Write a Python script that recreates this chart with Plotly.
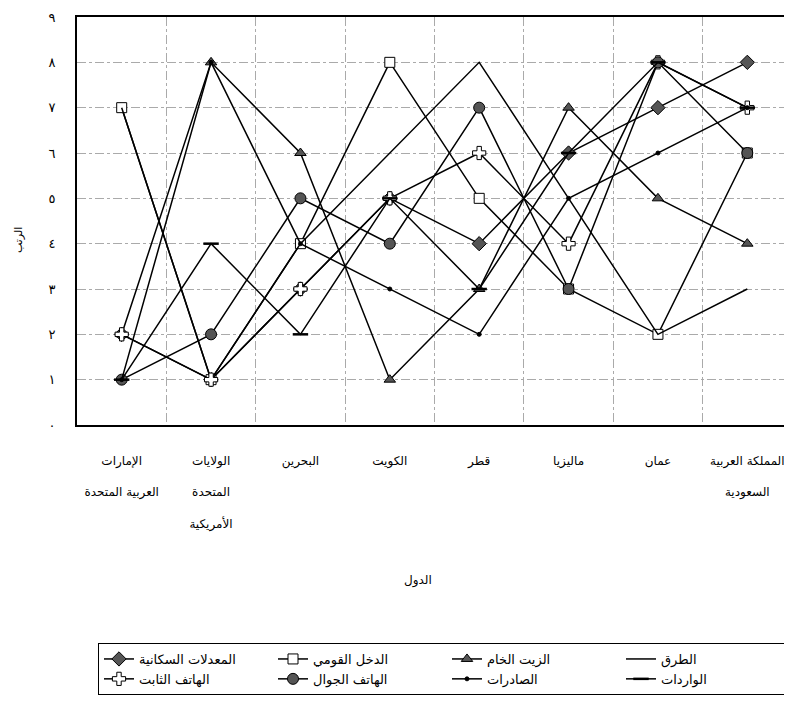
import plotly.graph_objects as go

countries = ["الإمارات<br>\u00a0<br>العربية المتحدة",
             "الولايات<br>\u00a0<br>المتحدة<br>\u00a0<br>الأمريكية",
             "البحرين", "الكويت", "قطر", "ماليزيا", "عمان",
             "المملكة العربية<br>\u00a0<br>السعودية"]

population = [2, 1, 3, 5, 4, 6, 7, 8]   # المعدلات السكانية
income     = [7, 1, 4, 8, 5, 3, 2, 6]   # الدخل القومي
crude      = [2, 8, 6, 1, 3, 7, 5, 4]   # الزيت الخام
roads      = [7, 1, 4, 6, 8, 5, 2, 3]   # الطرق
fixed      = [2, 1, 3, 5, 6, 4, 8, 7]   # الهاتف الثابت
mobile     = [1, 2, 5, 4, 7, 3, 8, 6]   # الهاتف الجوال
exports    = [1, 8, 4, 3, 2, 5, 6, 7]   # الصادرات
imports    = [1, 4, 2, 5, 3, 6, 8, 7]   # الواردات

y_ticks = list(range(10))
y_tick_text = ["٠", "١", "٢", "٣", "٤", "٥", "٦", "٧", "٨", "٩"]

FONT = "DejaVu Sans"
LW = 1.5

fig = go.Figure()

def add(name, vals, symbol=None, size=9, fill="black", mlw=1):
    if symbol is None:
        fig.add_trace(go.Scatter(x=countries, y=vals, name=name, mode="lines",
                                 line=dict(color="black", width=LW)))
    else:
        fig.add_trace(go.Scatter(x=countries, y=vals, name=name, mode="lines+markers",
                                 line=dict(color="black", width=LW),
                                 marker=dict(symbol=symbol, size=size, color=fill,
                                             line=dict(color="black", width=mlw))))

add("المعدلات السكانية", population, "diamond", 11, "#555555")
add("الدخل القومي", income, "square", 10, "white")
add("الزيت الخام", crude, "triangle-up", 10, "#555555")
add("الطرق", roads)
add("الهاتف الثابت", fixed, "cross", 11, "white")
add("الهاتف الجوال", mobile, "circle", 11, "#555555")
add("الصادرات", exports, "circle", 4, "black")
add("الواردات", imports, "line-ew-open", 11, "black", 2.5)

# page body has an 8px margin; target window coords of the plot area
OFF = 8
PL, PT = 77, 17          # plot area left/top in window pixels
W, H = 715, 408          # plot area size
FIG_W, FIG_H = 792 - OFF, 709 - OFF

def px(xw):
    return (xw - PL) / W

def py(yw):
    return (PT + H - yw) / H

fig.update_layout(
    width=FIG_W, height=FIG_H,
    margin=dict(l=PL - OFF, r=FIG_W - (PL - OFF) - W, t=PT - OFF,
                b=FIG_H - (PT - OFF) - H, autoexpand=False),
    plot_bgcolor="white", paper_bgcolor="white",
    font=dict(family=FONT, size=12, color="black"),
    showlegend=True,
    legend=dict(orientation="h", x=px(98), xanchor="left",
                y=py(643), yanchor="top",
                bordercolor="black", borderwidth=1, entrywidth=129,
                font=dict(family=FONT, size=13), traceorder="normal",
                itemwidth=30),
    xaxis=dict(type="category", range=[-0.5, 7.5], tickson="boundaries",
               automargin=False, ticklabeloverflow="allow",
               showgrid=True, gridcolor="#aaaaaa", griddash="dashdot", gridwidth=1,
               showline=True, linecolor="black", linewidth=1.5, mirror=True,
               ticks="", ticklabelstandoff=24, tickfont=dict(size=12)),
    yaxis=dict(range=[0, 9], tickvals=y_ticks, ticktext=y_tick_text,
               automargin=False, ticklabeloverflow="allow",
               showgrid=True, gridcolor="#aaaaaa", griddash="dashdot", gridwidth=1,
               showline=True, linecolor="black", linewidth=2, mirror=True,
               ticks="", ticklabelstandoff=17, zeroline=False, tickfont=dict(size=13)),
    annotations=[
        dict(text="الرتب", xref="paper", yref="paper",
             x=px(18), y=py(240), xanchor="center", yanchor="middle",
             showarrow=False, textangle=-90, font=dict(size=11)),
        dict(text="الدول", xref="paper", yref="paper",
             x=px(418), y=py(580), xanchor="center", yanchor="middle",
             showarrow=False, font=dict(size=12)),
    ],
)

fig.write_html("out.html")
